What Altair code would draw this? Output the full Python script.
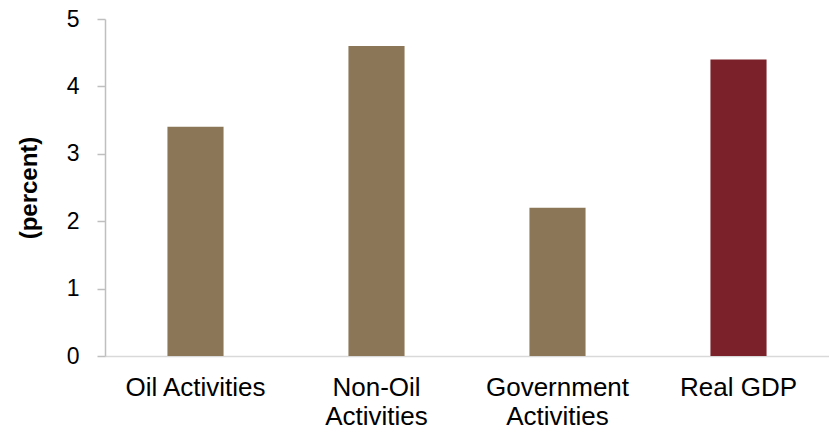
import altair as alt
import pandas as pd

categories = ["Oil Activities", "Non-Oil|Activities", "Government|Activities", "Real GDP"]
values = [3.4, 4.6, 2.2, 4.4]
colors = ["#8B7757", "#8B7757", "#8B7757", "#7B2129"]

df = pd.DataFrame({"cat": categories, "val": values, "col": colors})

chart = alt.Chart(df).mark_bar().encode(
    x=alt.X("cat:N", sort=categories, title=None,
            scale=alt.Scale(paddingInner=0.69, paddingOuter=0.345),
            axis=alt.Axis(labelAngle=0, labelExpr="split(datum.label, '|')",
                          labelFont="Liberation Sans", labelFontSize=26, labelColor="#000000",
                          labelPadding=18, labelLineHeight=29, ticks=False,
                          domainColor="#d9d9d9", domainWidth=1.5, labelBaseline="top")),
    y=alt.Y("val:Q", title="(percent)",
            scale=alt.Scale(domain=[0, 5], nice=False),
            axis=alt.Axis(values=[0, 1, 2, 3, 4, 5], grid=False, format="d",
                          labelFont="Liberation Sans", labelFontSize=23, labelColor="#000000",
                          labelPadding=18, tickSize=8, tickColor="#bfbfbf", domainColor="#bfbfbf",
                          domainWidth=1.5, tickWidth=1.5,
                          titleFont="Liberation Sans", titleFontSize=24, titleFontWeight="bold",
                          titleColor="#000000", titlePadding=25)),
    color=alt.Color("col:N", scale=None, legend=None),
).properties(
    width=724, height=337,
    padding={"left": 105, "top": 19, "right": 0, "bottom": 76},
    autosize=alt.AutoSizeParams(type="none"),
).configure_view(stroke=None)

chart.save("out.html", embed_options={"renderer": "svg", "actions": False})
